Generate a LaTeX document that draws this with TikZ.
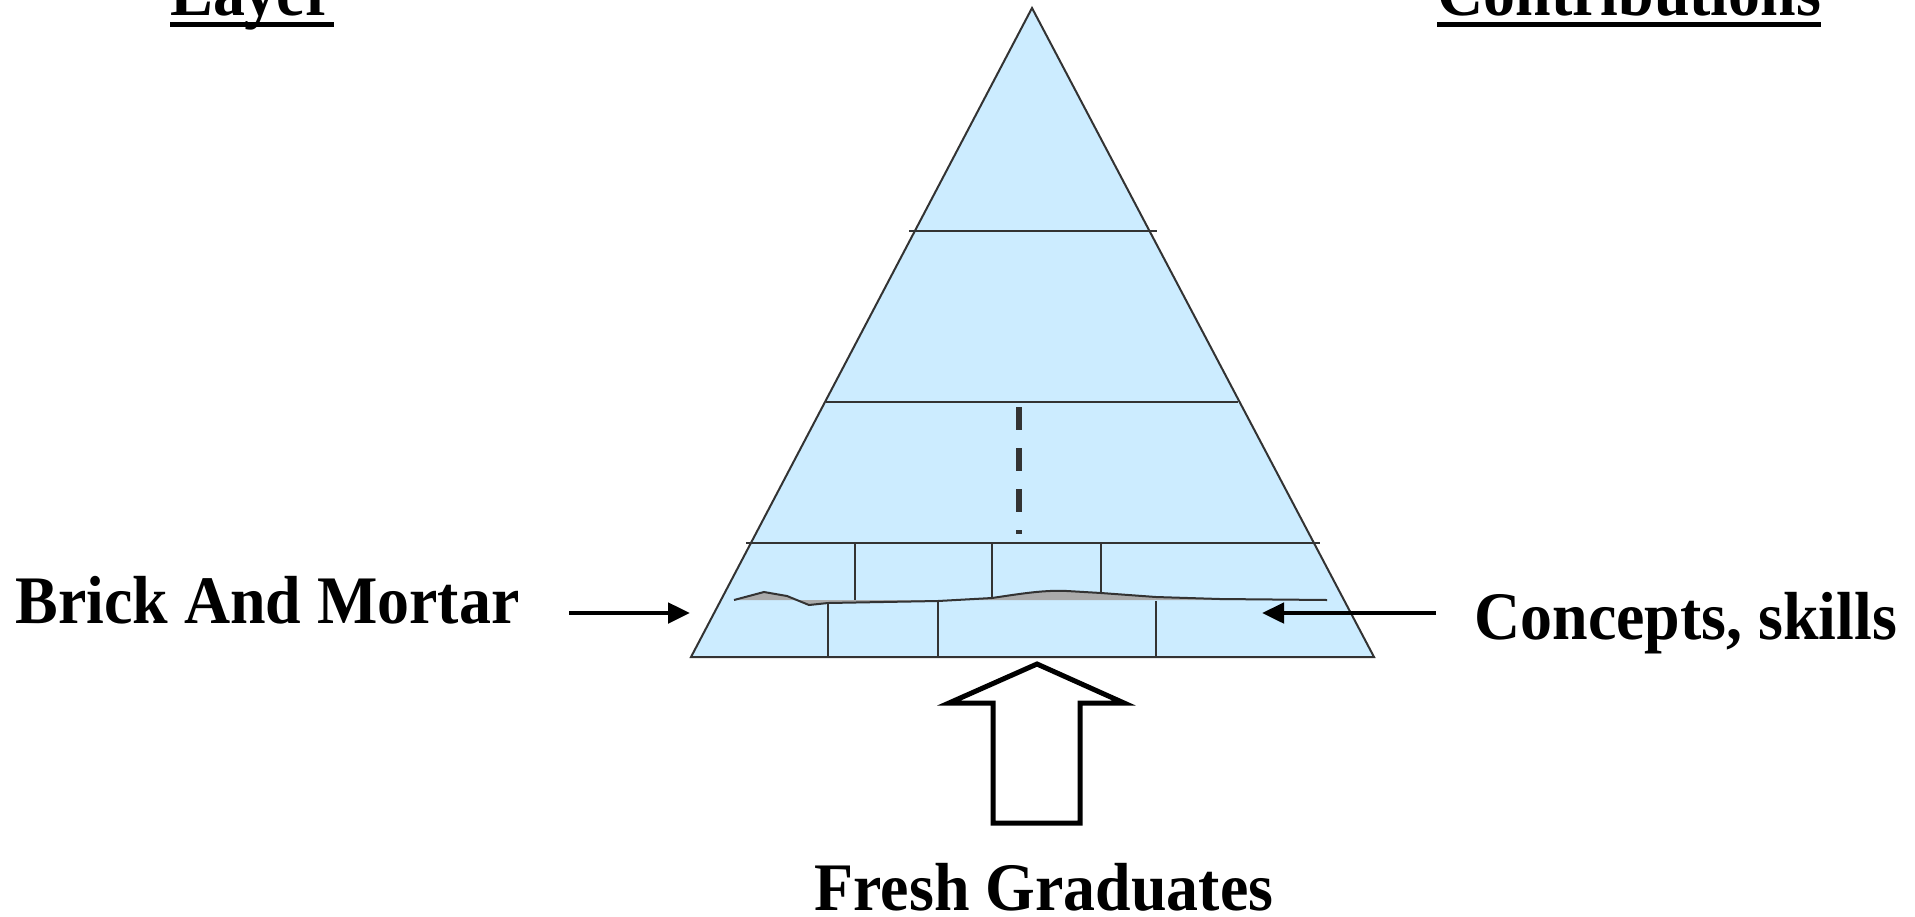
\documentclass[tikz,border=0pt]{standalone}
\usepackage{fontspec}
\setmainfont{Liberation Serif}
\usetikzlibrary{arrows.meta,calc}
\definecolor{pyrblue}{RGB}{204,236,255}
\definecolor{pyredge}{RGB}{51,51,51}
\definecolor{mortargray}{RGB}{170,170,170}
\tikzset{
  lbl/.style={inner sep=0pt,font=\bfseries\fontsize{34}{40}\selectfont},
  divide/.style={draw=pyredge,line width=1pt},
  feed/.style={line width=2.4pt,-{Triangle[length=11pt,width=10pt]}},
  uline/.style={line width=2.5pt},
}
\newcommand{\narrowtext}[1]{\scalebox{0.94}[1]{#1}}

\begin{document}
\begin{tikzpicture}[x=0.5pt,y=-0.5pt]
\useasboundingbox (0,0) rectangle (1915,916);
% pyramid and its layers
\draw[fill=pyrblue,draw=pyredge,line width=1pt] (1032,8) -- (1374,657) -- (691,657) -- cycle;
\draw[divide] (909,231) -- (1157,231);
\draw[divide] (826,402) -- (1238,402);
\draw[divide] (746,543) -- (1320,543);
\draw[pyredge,line width=3pt,dash pattern=on 11.5pt off 9pt] (1019,407) -- (1019,534);
% bricks
\foreach \x in {855,992,1101}
  \draw[divide] (\x,543) -- (\x,600);
\foreach \x in {828,938,1156}
  \draw[divide] (\x,601) -- (\x,657);
% mortar
\fill[mortargray] (734,600) -- (764,592) -- (787,596) -- (809,605) -- (828,603) -- (938,601) -- (992,598)
  .. controls (1025,593) and (1045,590) .. (1067,591) -- (1101,593) -- (1156,597) -- (1220,599) -- (1327,600) -- cycle;
\draw[divide] (734,600) -- (764,592) -- (787,596) -- (809,605) -- (828,603) -- (938,601) -- (992,598)
  .. controls (1025,593) and (1045,590) .. (1067,591) -- (1101,593) -- (1156,597) -- (1220,599) -- (1327,600);
% titles
\node[lbl,anchor=base west] (layer) at (170,15) {\narrowtext{Layer}};
\draw[uline] ($(layer.base west)+(0,9.5)$) -- ($(layer.base east)+(0,9.5)$);
\node[lbl,anchor=base west] (contrib) at (1437,15) {\narrowtext{Contributions}};
\draw[uline] ($(contrib.base west)+(0,9.5)$) -- ($(contrib.base east)+(0,9.5)$);
% side labels
\node[lbl,anchor=base west] (brick) at (15,623) {\narrowtext{Brick And Mortar}};
\node[lbl,anchor=base west] (concepts) at (1474,639) {\narrowtext{Concepts, skills}};
\coordinate (brickS) at (569,613);
\coordinate (brickE) at (690,613);
\coordinate (conceptS) at (1436,613);
\coordinate (conceptE) at (1262,613);
\draw[feed] (brickS) -- (brickE);
\draw[feed] (conceptS) -- (conceptE);
% input arrow
\draw[line width=2.5pt,fill=white] (1037,664) -- (1124,703) -- (1080,703) -- (1080,823) -- (993,823) -- (993,703) -- (949,703) -- cycle;
\node[lbl,anchor=base] (fresh) at (1044,910) {\narrowtext{Fresh Graduates}};
\end{tikzpicture}
\end{document}
